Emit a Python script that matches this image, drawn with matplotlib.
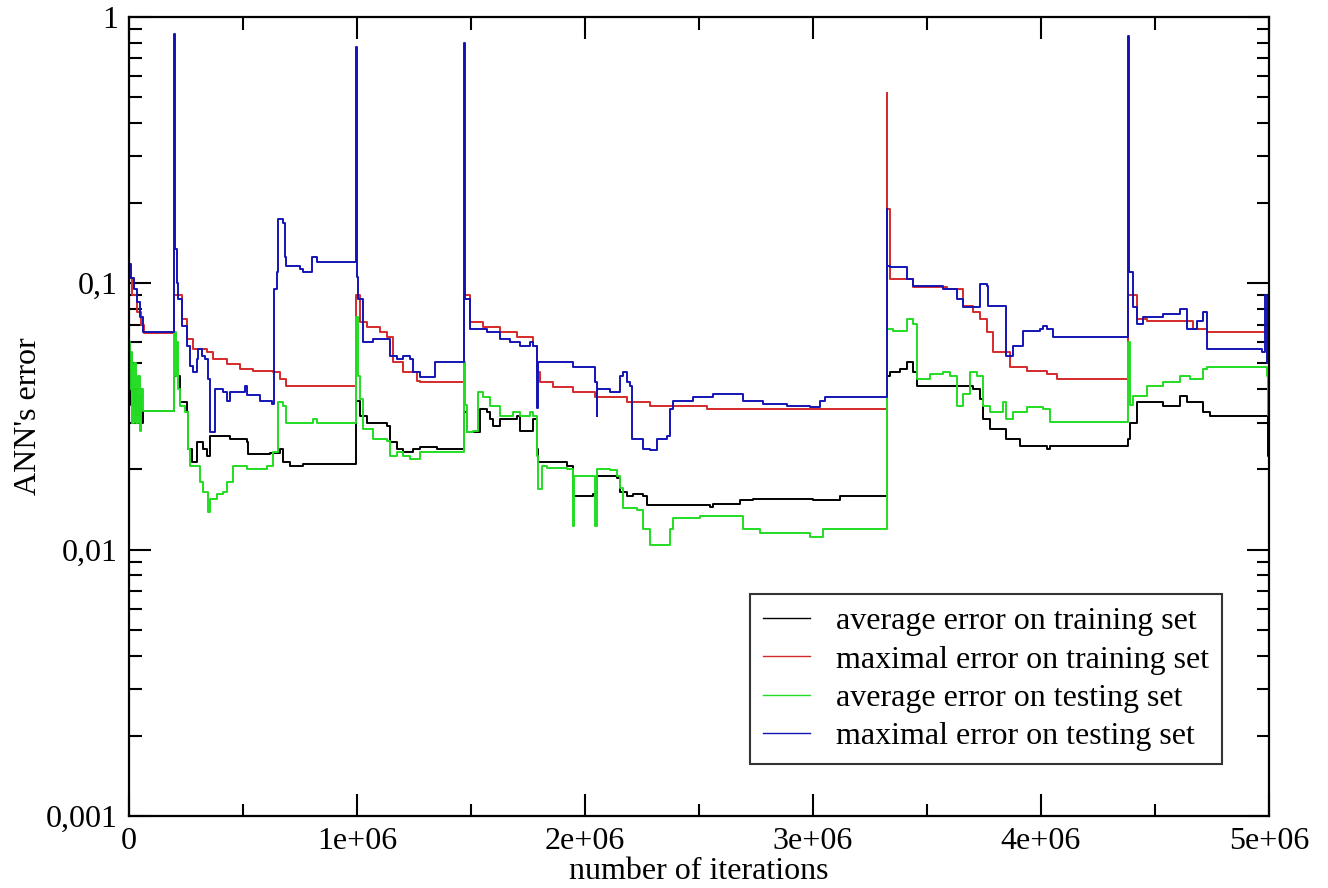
import numpy as np
import matplotlib
matplotlib.use("Agg")
import matplotlib.pyplot as plt
from matplotlib.ticker import FixedLocator, LogLocator, NullFormatter, MultipleLocator

# x values are in millions of iterations, y values are the errors
avg_train_x = [0, 0.01, 0.02, 0.03, 0.045, 0.055, 0.063,
               0.199, 0.224, 0.253, 0.26, 0.275, 0.297, 0.326, 0.341, 0.355, 0.399, 0.443,
               0.516, 0.523, 0.618, 0.662, 0.677, 0.706, 0.765,
               0.998, 1.013, 1.042, 1.13, 1.145, 1.174, 1.204, 1.247, 1.276, 1.349,
               1.47, 1.481, 1.539, 1.569, 1.583, 1.598, 1.628, 1.7, 1.715, 1.773, 1.788,
               1.795, 1.92, 1.949, 2.036, 2.051, 2.139, 2.154, 2.183, 2.212, 2.256, 2.271,
               2.548, 2.563, 2.68, 2.738, 3.002, 3.118,
               3.323, 3.338, 3.382, 3.411, 3.44, 3.455, 3.659, 3.703, 3.732, 3.747, 3.776,
               3.849, 3.908, 4.025, 4.04,
               4.383, 4.391, 4.42, 4.537, 4.61, 4.64, 4.713, 4.742, 4.99, 4.995, 5.0]
avg_train_y = [0.042, 0.035, 0.04, 0.032, 0.038, 0.03, 0.0332,
               0.0449, 0.0358, 0.0329, 0.0239, 0.0214, 0.0254, 0.0239, 0.0225, 0.0267, 0.0267, 0.026,
               0.0254, 0.0229, 0.0231, 0.0239, 0.0214, 0.0206, 0.021,
               0.036, 0.0318, 0.030, 0.0291, 0.0254, 0.0239, 0.0233, 0.0239, 0.0243, 0.0239,
               0.033, 0.0277, 0.0338, 0.0329, 0.031, 0.0291, 0.031, 0.0318, 0.0279, 0.031, 0.0239,
               0.0214, 0.0206, 0.0159, 0.0162, 0.0189, 0.0186, 0.0165, 0.0159, 0.0162, 0.0159, 0.0147,
               0.0145, 0.0149, 0.0153, 0.0155, 0.0153, 0.0159,
               0.045, 0.0464, 0.0476, 0.0506, 0.0464, 0.0411, 0.0411, 0.0401, 0.0368, 0.031, 0.0284,
               0.026, 0.0246, 0.0239, 0.0246,
               0.026, 0.030, 0.0358, 0.0346, 0.0376, 0.0358, 0.0329, 0.0318, 0.0318, 0.0225, 0.026]

max_train_x = [0, 0.015, 0.035, 0.055, 0.065,
               0.199, 0.231, 0.253, 0.282, 0.341, 0.37, 0.428, 0.487, 0.545, 0.633, 0.662, 0.691,
               0.998, 1.013, 1.042, 1.101, 1.13, 1.16, 1.204, 1.262, 1.276,
               1.47, 1.496, 1.554, 1.628, 1.7, 1.773, 1.788, 1.803, 1.861, 1.949, 2.044, 2.183,
               2.285, 2.534,
               3.323, 3.325, 3.338, 3.44, 3.586, 3.659, 3.703, 3.732, 3.762, 3.791, 3.864, 3.937,
               4.025, 4.069,
               4.383, 4.42, 4.464, 4.669, 4.727, 5.0]
max_train_y = [0.105, 0.09, 0.078, 0.07, 0.065,
               0.09, 0.0733, 0.0617, 0.0566, 0.0552, 0.0519, 0.0497, 0.0476, 0.0468, 0.0464, 0.0437, 0.0411,
               0.09, 0.0714, 0.0685, 0.0655, 0.0628, 0.0506, 0.0464, 0.043, 0.0426,
               0.09, 0.0714, 0.0685, 0.0655, 0.0628, 0.0581, 0.0464, 0.0426, 0.0408, 0.0391, 0.0374, 0.0358,
               0.0346, 0.0338,
               0.52, 0.19, 0.1035, 0.0966, 0.095, 0.082, 0.0779, 0.0733, 0.0655, 0.0552, 0.0485, 0.0468,
               0.0456, 0.0437,
               0.09, 0.0733, 0.0721, 0.0673, 0.0655, 0.0655]

avg_test_x = [0, 0.005, 0.01, 0.015, 0.02, 0.03, 0.04, 0.05, 0.055, 0.063,
              0.199, 0.205, 0.21, 0.217, 0.224, 0.246, 0.26, 0.268, 0.297, 0.311, 0.326, 0.348,
              0.355, 0.385, 0.414, 0.428, 0.458, 0.516, 0.545, 0.604, 0.633, 0.655, 0.677, 0.691,
              0.779, 0.808, 0.823,
              0.998, 1.005, 1.013, 1.028, 1.072, 1.13, 1.145, 1.174, 1.204, 1.232, 1.276,
              1.47, 1.475, 1.481, 1.511, 1.532, 1.554, 1.583, 1.628, 1.686, 1.715, 1.759, 1.773,
              1.788, 1.795, 1.81, 1.832, 1.92, 1.949, 1.952, 2.036, 2.044, 2.051, 2.11, 2.139,
              2.154, 2.168, 2.227, 2.256, 2.285, 2.358, 2.373, 2.387, 2.504, 2.694, 2.768,
              2.987, 3.045,
              3.323, 3.352, 3.411, 3.44, 3.455, 3.513, 3.572, 3.601, 3.63, 3.659, 3.689, 3.718,
              3.747, 3.776, 3.835, 3.849, 3.879, 3.937, 4.01, 4.04,
              4.383, 4.39, 4.405, 4.464, 4.537, 4.61, 4.654, 4.713, 4.727, 4.961, 4.99, 4.995, 5.0]
avg_test_y = [0.06, 0.04, 0.055, 0.03, 0.05, 0.03, 0.045, 0.028, 0.04, 0.0332,
              0.0655, 0.045, 0.06, 0.04, 0.0346, 0.033, 0.0239, 0.0206, 0.0206, 0.018, 0.0165, 0.0139,
              0.0155, 0.0162, 0.0165, 0.018, 0.0206, 0.0201, 0.0201, 0.0206, 0.0233, 0.0358, 0.0346, 0.030,
              0.030, 0.031, 0.030,
              0.075, 0.045, 0.0368, 0.0284, 0.026, 0.0255, 0.0225, 0.0233, 0.0225, 0.0219, 0.0233,
              0.0506, 0.035, 0.0277, 0.028, 0.039, 0.0375, 0.0346, 0.0318, 0.0329, 0.0318, 0.0329, 0.0318,
              0.0225, 0.0169, 0.0206, 0.0203, 0.0201, 0.0123, 0.0189, 0.0189, 0.0123, 0.0201, 0.0199, 0.0189,
              0.017, 0.0143, 0.0141, 0.012, 0.0104, 0.0104, 0.012, 0.0131, 0.0134, 0.012, 0.0115,
              0.0112, 0.012,
              0.0673, 0.0661, 0.0733, 0.0702, 0.0437, 0.0456, 0.0464, 0.0449, 0.0346, 0.0384, 0.0464, 0.0449,
              0.0346, 0.0329, 0.0358, 0.031, 0.0329, 0.0343, 0.0338, 0.0302,
              0.06, 0.035, 0.0377, 0.0411, 0.0426, 0.0449, 0.0437, 0.0476, 0.0485, 0.0485, 0.045, 0.032, 0.03]

max_test_x = [0, 0.01, 0.02, 0.035, 0.05, 0.063,
              0.199, 0.201, 0.21, 0.217, 0.231, 0.253, 0.268, 0.282, 0.297, 0.304, 0.319, 0.333,
              0.348, 0.355, 0.377, 0.414, 0.428, 0.443, 0.509, 0.516, 0.575, 0.626, 0.636, 0.648,
              0.655, 0.677, 0.684, 0.691, 0.75, 0.765, 0.801, 0.823,
              0.998, 1.0, 1.005, 1.028, 1.072, 1.145, 1.174, 1.204, 1.232, 1.247, 1.276, 1.342,
              1.47, 1.474, 1.496, 1.569, 1.628, 1.671, 1.715, 1.759, 1.773, 1.788, 1.789, 1.795,
              1.949, 2.036, 2.044, 2.051, 2.052, 2.055, 2.11, 2.154, 2.168, 2.183, 2.197, 2.205,
              2.256, 2.285, 2.314, 2.358, 2.373, 2.387, 2.475, 2.563, 2.694, 2.782, 2.885, 2.987,
              3.031, 3.053,
              3.323, 3.326, 3.338, 3.396, 3.411, 3.44, 3.572, 3.63, 3.659, 3.703, 3.732, 3.762,
              3.769, 3.842, 3.849, 3.879, 3.923, 3.996, 4.01, 4.025, 4.054,
              4.383, 4.385, 4.405, 4.42, 4.449, 4.537, 4.61, 4.64, 4.684, 4.713, 4.727, 4.961,
              4.968, 4.985, 4.99, 4.995, 5.0]
max_test_y = [0.118, 0.105, 0.095, 0.085, 0.075, 0.0655,
              0.86, 0.134, 0.1, 0.087, 0.069, 0.058, 0.049, 0.0464, 0.052, 0.0566, 0.0533, 0.0519,
              0.0437, 0.0277, 0.0401, 0.0391, 0.0362, 0.0391, 0.0411, 0.038, 0.0362, 0.0352, 0.095, 0.11,
              0.174, 0.169, 0.126, 0.116, 0.113, 0.11, 0.126, 0.12,
              0.77, 0.106, 0.087, 0.060, 0.0617, 0.0533, 0.0519, 0.0533, 0.0519, 0.0464, 0.0445, 0.0506,
              0.80, 0.0871, 0.0673, 0.0655, 0.0617, 0.0601, 0.0581, 0.0601, 0.0581, 0.0519, 0.034, 0.0506,
              0.0485, 0.0485, 0.0426, 0.0401, 0.0318, 0.0401, 0.0391, 0.0449, 0.0464, 0.0426, 0.0411, 0.026,
              0.0239, 0.0237, 0.026, 0.0267, 0.0338, 0.0362, 0.0374, 0.0384, 0.0362, 0.0352, 0.0346, 0.0343,
              0.0362, 0.0374,
              0.19, 0.116, 0.115, 0.115, 0.1035, 0.0974, 0.095, 0.0871, 0.0813, 0.0813, 0.0991, 0.0974,
              0.082, 0.082, 0.0533, 0.0581, 0.0661, 0.0673, 0.069, 0.0673, 0.0628,
              0.85, 0.11, 0.0813, 0.0702, 0.0746, 0.0765, 0.0799, 0.0673, 0.072, 0.0779, 0.0566, 0.0566,
              0.0552, 0.09, 0.05, 0.065, 0.06]

series = [
    (avg_train_x, avg_train_y, "black", "average error on training set"),
    (max_train_x, max_train_y, "#d42a2a", "maximal error on training set"),
    (avg_test_x, avg_test_y, "#22dd22", "average error on testing set"),
    (max_test_x, max_test_y, "#1414b4", "maximal error on testing set"),
]

plt.rcParams["font.family"] = "Liberation Serif"

fig = plt.figure(figsize=(13.28, 8.88), dpi=100)
ax = fig.add_axes([0.0971, 0.0811, 0.8584, 0.8998])

for xs, ys, col, lab in series:
    ax.plot(np.array(xs) * 1e6, ys, color=col, lw=1.4, drawstyle="steps-post", label=lab)

ax.set_yscale("log")
ax.set_xlim(0, 5e6)
ax.set_ylim(0.001, 1)

ax.xaxis.set_major_locator(FixedLocator([0, 1e6, 2e6, 3e6, 4e6, 5e6]))
ax.set_xticklabels(["0", "1e+06", "2e+06", "3e+06", "4e+06", "5e+06"])
ax.xaxis.set_minor_locator(MultipleLocator(0.5e6))
ax.yaxis.set_major_locator(FixedLocator([0.001, 0.01, 0.1, 1]))
ax.set_yticklabels(["0,001", "0,01", "0,1", "1"])
ax.yaxis.set_minor_locator(LogLocator(base=10, subs=np.arange(2, 10)))
ax.yaxis.set_minor_formatter(NullFormatter())

ax.tick_params(which="both", direction="in", top=True, right=True, width=1.5, labelsize=23)
ax.tick_params(which="major", length=16, pad=8)
ax.tick_params(which="minor", length=9)
for s in ax.spines.values():
    s.set_linewidth(1.6)

ax.set_xlabel("number of iterations", fontsize=23, labelpad=1)
ax.set_ylabel("ANN's error", fontsize=23, labelpad=2)

leg = ax.legend(loc="lower right", bbox_to_anchor=(0.9588, 0.065), fontsize=23,
                frameon=True, fancybox=False, edgecolor="black", handlelength=1.5,
                handletextpad=0.8, borderpad=0.4, labelspacing=0.28, borderaxespad=0)
leg.get_frame().set_linewidth(1.5)
for h in leg.get_lines():
    h.set_linewidth(1.0)

fig.savefig("out.png", dpi=100)
